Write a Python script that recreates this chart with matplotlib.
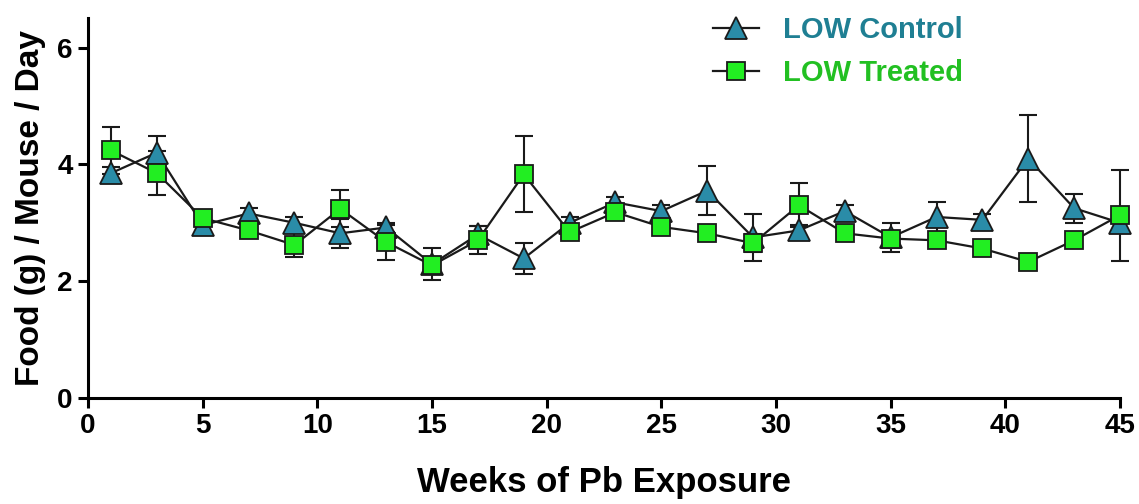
import matplotlib
matplotlib.use("Agg")
import matplotlib.pyplot as plt
import numpy as np

weeks = [1, 3, 5, 7, 9, 11, 13, 15, 17, 19, 21, 23, 25, 27, 29, 31, 33, 35, 37, 39, 41, 43, 45]
control = [3.85, 4.2, 2.96, 3.16, 3.0, 2.82, 2.92, 2.29, 2.8, 2.39, 3.0, 3.35, 3.2, 3.55, 2.75,
           2.87, 3.2, 2.75, 3.1, 3.05, 4.1, 3.25, 3.0]
control_err = [0.1, 0.28, 0.1, 0.1, 0.1, 0.25, 0.08, 0.27, 0.15, 0.27, 0.1, 0.1, 0.1, 0.42, 0.4,
               0.1, 0.1, 0.25, 0.25, 0.1, 0.75, 0.25, 0.1]
treated = [4.24, 3.85, 3.08, 2.87, 2.62, 3.24, 2.67, 2.27, 2.7, 3.83, 2.84, 3.18, 2.93, 2.82, 2.65,
           3.3, 2.82, 2.73, 2.7, 2.56, 2.33, 2.7, 3.13]
treated_err = [0.4, 0.38, 0.1, 0.1, 0.2, 0.32, 0.3, 0.1, 0.24, 0.65, 0.1, 0.12, 0.1, 0.1, 0.15,
               0.38, 0.1, 0.1, 0.12, 0.1, 0.1, 0.12, 0.78]
labels = ["LOW Control", "LOW Treated"]
xticks = [0, 5, 10, 15, 20, 25, 30, 35, 40, 45]
yticks = [0, 2, 4, 6]

plt.rcParams['font.family'] = ['Liberation Sans', 'DejaVu Sans']
plt.rcParams['font.weight'] = 'bold'

fig = plt.figure(figsize=(11.39, 5.04), dpi=100)
ax = fig.add_axes([0.0773, 0.2103, 0.9060, 0.7532])

c_ctrl = "#2a8ca8"
c_trt = "#22ee22"
t_ctrl = "#1f7f93"
t_trt = "#22c022"

ax.errorbar(weeks, control, yerr=control_err, fmt='none', ecolor='#1a1a1a',
            elinewidth=1.5, capsize=6.5, capthick=1.5, clip_on=False, zorder=2)
ax.errorbar(weeks, treated, yerr=treated_err, fmt='none', ecolor='#1a1a1a',
            elinewidth=1.5, capsize=6.5, capthick=1.5, clip_on=False, zorder=2)
l1, = ax.plot(weeks, control, '-', color='#1a1a1a', lw=1.6, marker='^', ms=16,
              mfc=c_ctrl, mec='#1a1a1a', mew=1.3, clip_on=False, zorder=3)
l2, = ax.plot(weeks, treated, '-', color='#1a1a1a', lw=1.6, marker='s', ms=13,
              mfc=c_trt, mec='#1a1a1a', mew=1.3, clip_on=False, zorder=4)

ax.set_xlim(0, 45)
ax.set_ylim(0, 6.5)
ax.set_xticks(xticks)
ax.set_yticks(yticks)
ax.spines['top'].set_visible(False)
ax.spines['right'].set_visible(False)
for s in ['left', 'bottom']:
    ax.spines[s].set_linewidth(2.2)
ax.tick_params(width=2.2, length=7, labelsize=20, pad=4)
for lab in ax.get_xticklabels() + ax.get_yticklabels():
    lab.set_fontweight('bold')

ax.set_xlabel("Weeks of Pb Exposure", fontsize=25, fontweight='bold', labelpad=19)
ax.set_ylabel("Food (g) / Mouse / Day", fontsize=24, fontweight='bold', labelpad=8)

leg = ax.legend([l1, l2], labels, loc='upper left', bbox_to_anchor=(0.58, 1.075),
                frameon=False, handlelength=1.6, handletextpad=0.8,
                labelspacing=0.5, prop={'weight': 'bold', 'size': 21})
for txt, col in zip(leg.get_texts(), [t_ctrl, t_trt]):
    txt.set_color(col)

fig.savefig("out.png", dpi=100)
